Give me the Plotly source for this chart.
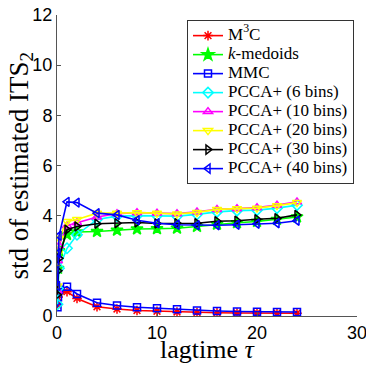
import plotly.graph_objects as go

# lagtimes (x) and std of estimated ITS_2 for each method
lagtime = [0.05, 0.1, 0.2, 1, 2, 4, 6, 8, 10, 12, 14, 16, 18, 20, 22, 24]

m3c = [0.45, 0.75, 0.9, 0.97, 0.7, 0.37, 0.28, 0.22, 0.19, 0.16, 0.14, 0.13, 0.12, 0.12, 0.11, 0.11]
kmedoids = [1.0, 1.9, 2.6, 3.25, 3.35, 3.37, 3.42, 3.47, 3.48, 3.5, 3.57, 3.66, 3.72, 3.77, 3.85, 3.95]
mmc = [0.35, 0.75, 1.05, 1.17, 0.88, 0.53, 0.42, 0.35, 0.31, 0.27, 0.22, 0.2, 0.18, 0.17, 0.16, 0.16]
pcca6 = [0.47, 1.1, 1.9, 2.7, 3.24, 3.85, 3.98, 4.0, 4.0, 3.98, 4.05, 4.15, 4.2, 4.22, 4.3, 4.42]
pcca10 = [1.0, 2.2, 2.8, 3.6, 3.72, 3.95, 4.08, 4.12, 4.1, 4.08, 4.15, 4.25, 4.28, 4.32, 4.42, 4.55]
pcca20 = [1.2, 2.5, 3.1, 3.77, 3.85, 4.1, 4.1, 4.12, 4.1, 4.07, 4.13, 4.25, 4.28, 4.3, 4.4, 4.52]
pcca30 = [0.85, 1.8, 2.3, 3.44, 3.57, 3.68, 3.7, 3.73, 3.69, 3.7, 3.7, 3.78, 3.8, 3.86, 3.9, 4.03]
pcca40 = [1.2, 2.5, 3.2, 4.55, 4.52, 4.1, 4.03, 3.82, 3.7, 3.64, 3.62, 3.62, 3.64, 3.68, 3.7, 3.8]

x_ticks = [0, 10, 20, 30]
y_ticks = [0, 2, 4, 6, 8, 10, 12]

series = [
    ("M<sup>3</sup>C", m3c, "#ff0000", "asterisk-open", 8),
    ("<i>k</i>-medoids", kmedoids, "#00ff00", "star", 9),
    ("MMC", mmc, "#0000ff", "square-open", 7),
    ("PCCA+ (6 bins)", pcca6, "#00ffff", "diamond-open", 8),
    ("PCCA+ (10 bins)", pcca10, "#ff00ff", "triangle-up-open", 8),
    ("PCCA+ (20 bins)", pcca20, "#ffff00", "triangle-down-open", 8),
    ("PCCA+ (30 bins)", pcca30, "#000000", "triangle-right-open", 8),
    ("PCCA+ (40 bins)", pcca40, "#0000ff", "triangle-left-open", 8),
]

fig = go.Figure()
for name, vals, col, sym, sz in series:
    fig.add_trace(go.Scatter(
        x=lagtime, y=vals, mode="lines+markers",
        # bigger text via span keeps the legend rows compact
        name='<span style="font-size:17px">' + name + "</span>",
        line=dict(color=col, width=1.6),
        marker=dict(symbol=sym, size=sz, color=col, line=dict(color=col, width=1.5)),
    ))

axis_common = dict(
    showgrid=False, zeroline=False, showline=True, linecolor="#555", linewidth=1,
    ticks="inside", ticklen=4, tickcolor="#555", automargin=False,
    ticklabeloverflow="allow",
    tickfont=dict(family="Liberation Sans", size=18, color="black"),
)

fig.update_xaxes(range=[0, 30], tickvals=x_ticks, **axis_common)
fig.update_yaxes(range=[0, 12], tickvals=y_ticks, **axis_common)

title_font = dict(family="Liberation Serif", size=26, color="black")
fig.add_annotation(text="lagtime <i>τ</i>", xref="paper", yref="paper",
                   x=0.5, y=-0.11, xanchor="center", yanchor="middle", showarrow=False,
                   font=title_font)
fig.add_annotation(text="std of estimated ITS<sub>2</sub>", xref="paper", yref="paper",
                   x=-0.123, y=0.5, xanchor="center", yanchor="middle", showarrow=False,
                   textangle=-90, font=dict(family="Liberation Serif", size=27, color="black"))

# the page body adds an 8px offset, so the figure is 8px smaller than the window
fig.update_layout(
    width=366, height=359,
    margin=dict(l=49, r=17, t=7, b=51, autoexpand=False),
    paper_bgcolor="white", plot_bgcolor="white",
    legend=dict(
        x=0.99, y=0.983, xanchor="right", yanchor="top",
        bgcolor="white", bordercolor="#333", borderwidth=1,
        font=dict(family="Liberation Serif", size=10, color="black"),
        itemwidth=30, tracegroupgap=0,
    ),
)

fig.write_html("out.html")
